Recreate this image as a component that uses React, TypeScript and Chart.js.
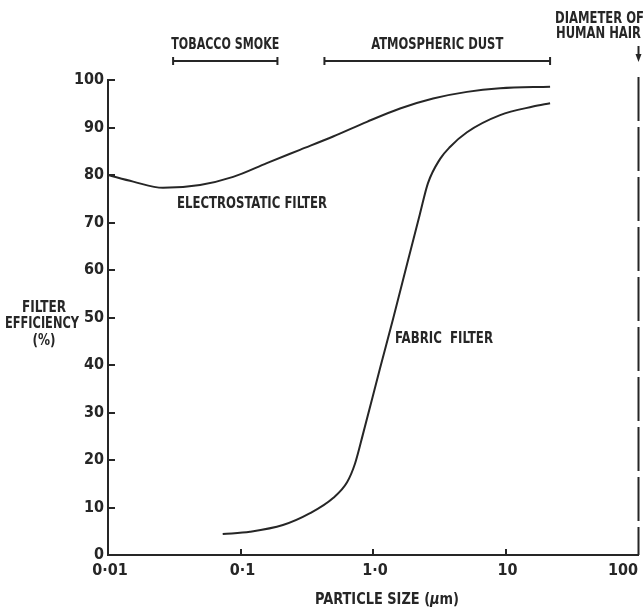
import React, { useEffect, useRef } from "react";
import { Chart, registerables } from "chart.js";

Chart.register(...registerables);

// ---- data ----
const electroX = [0.01, 0.0155, 0.026, 0.0495, 0.088, 0.158, 0.281, 0.5, 0.9, 1.6, 2.84, 5.12, 9.1, 21.7];
const electroY = [80, 78.6, 77.3, 77.9, 79.6, 82.5, 85.3, 88.1, 91.2, 94.0, 96.1, 97.5, 98.25, 98.6];

const fabricX = [0.0734, 0.118, 0.209, 0.335, 0.5, 0.637, 0.731, 0.841, 1.13, 1.42, 1.81, 2.26, 2.6, 3.21, 3.81, 5.12, 9.1, 16.1, 21.7];
const fabricY = [4.4, 4.9, 6.3, 8.8, 12, 15.3, 19.2, 25.5, 39.3, 49.8, 61.3, 71.8, 78.3, 83.4, 85.9, 89, 92.6, 94.4, 95.1];

const xTickValues = [0.01, 0.1, 1, 10, 100];
const xTickLabels = ["0·01", "0·1", "1·0", "10", "100"];
const yTickValues = [10, 20, 30, 40, 50, 60, 70, 80, 90, 100];

const tobaccoRange = [0.031, 0.19];
const dustRange = [0.43, 21.7];
const hairDiameter = 100;

const INK = "#262626";
const FAM = '"Liberation Sans Narrow", "DejaVu Sans Condensed", "Arial Narrow", sans-serif';
const FONT = `bold 16px ${FAM}`;

function fitText(ctx: CanvasRenderingContext2D, text: string, cx: number, cy: number, w: number, font = FONT) {
  ctx.save();
  ctx.font = font;
  const m = ctx.measureText(text).width;
  const s = w / m;
  ctx.translate(cx, cy);
  ctx.scale(s, 1);
  ctx.textAlign = "center";
  ctx.textBaseline = "middle";
  ctx.fillStyle = INK;
  ctx.fillText(text, 0, 0);
  ctx.restore();
}

const decorPlugin = {
  id: "decor",
  afterDraw(chart: any) {
    const ctx: CanvasRenderingContext2D = chart.ctx;
    const xs = chart.scales.x;
    const ys = chart.scales.y;
    const area = chart.chartArea;
    ctx.save();
    ctx.strokeStyle = INK;
    ctx.fillStyle = INK;
    ctx.lineWidth = 2;
    ctx.lineCap = "butt";

    // y ticks (inward)
    yTickValues.forEach((v) => {
      const py = Math.round(ys.getPixelForValue(v));
      ctx.beginPath();
      ctx.moveTo(area.left - 1, py);
      ctx.lineTo(area.left + 7, py);
      ctx.stroke();
    });
    // x ticks (inward)
    xTickValues.slice(1, 4).forEach((v) => {
      const px = Math.round(xs.getPixelForValue(v));
      ctx.beginPath();
      ctx.moveTo(px, area.bottom);
      ctx.lineTo(px, area.bottom - 6);
      ctx.stroke();
    });
    // x tick labels
    ctx.font = FONT;
    ctx.textBaseline = "middle";
    xTickValues.forEach((v, i) => {
      const px = xs.getPixelForValue(v);
      if (i === xTickValues.length - 1) {
        ctx.textAlign = "right";
        ctx.fillText(xTickLabels[i], px, area.bottom + 16);
      } else {
        ctx.textAlign = "center";
        ctx.fillText(xTickLabels[i], px + 2, area.bottom + 16);
      }
    });

    // y title (horizontal, three lines)
    fitText(ctx, "FILTER", 44, 308, 44);
    fitText(ctx, "EFFICIENCY", 42, 324, 74);
    fitText(ctx, "(%)", 44, 341, 23);

    // x title with italic mu
    {
      const y = 600;
      const parts = [
        { t: "PARTICLE SIZE (", f: FONT },
        { t: "μ", f: `italic bold 16px ${FAM}` },
        { t: "m)", f: FONT },
      ];
      let total = 0;
      const widths = parts.map((p) => {
        ctx.font = p.f;
        const w = ctx.measureText(p.t).width;
        total += w;
        return w;
      });
      const target = 144;
      const s = target / total;
      ctx.save();
      ctx.translate(387 - target / 2, y);
      ctx.scale(s, 1);
      ctx.textAlign = "left";
      ctx.textBaseline = "middle";
      let x = 0;
      parts.forEach((p, i) => {
        ctx.font = p.f;
        ctx.fillText(p.t, x, 0);
        x += widths[i];
      });
      ctx.restore();
    }

    // range brackets
    const bracketY = 61;
    const drawBracket = (r: number[], label: string, w: number) => {
      const x1 = xs.getPixelForValue(r[0]);
      const x2 = xs.getPixelForValue(r[1]);
      ctx.lineWidth = 2;
      ctx.beginPath();
      ctx.moveTo(x1, bracketY);
      ctx.lineTo(x2, bracketY);
      ctx.moveTo(x1, bracketY - 4);
      ctx.lineTo(x1, bracketY + 4);
      ctx.moveTo(x2, bracketY - 4);
      ctx.lineTo(x2, bracketY + 4);
      ctx.stroke();
      fitText(ctx, label, (x1 + x2) / 2, 45, w);
    };
    drawBracket(tobaccoRange, "TOBACCO SMOKE", 108);
    drawBracket(dustRange, "ATMOSPHERIC DUST", 132);

    // human hair
    const hx = Math.round(xs.getPixelForValue(hairDiameter)) + 0.5;
    fitText(ctx, "DIAMETER OF", 599.5, 19, 89);
    fitText(ctx, "HUMAN HAIR", 598.5, 34, 85);
    ctx.lineWidth = 2;
    ctx.beginPath();
    ctx.moveTo(hx, 46);
    ctx.lineTo(hx, 56);
    ctx.stroke();
    ctx.beginPath();
    ctx.moveTo(hx - 3, 54);
    ctx.lineTo(hx + 3, 54);
    ctx.lineTo(hx, 62);
    ctx.closePath();
    ctx.fill();
    ctx.setLineDash([44, 6]);
    ctx.beginPath();
    ctx.moveTo(hx, 77);
    ctx.lineTo(hx, area.bottom);
    ctx.stroke();
    ctx.setLineDash([]);

    // curve labels
    fitText(ctx, "ELECTROSTATIC FILTER", 252, 204, 150);
    fitText(ctx, "FABRIC  FILTER", 444, 339, 98);

    ctx.restore();
  },
};

export default function App() {
  const ref = useRef<HTMLCanvasElement | null>(null);
  useEffect(() => {
    if (!ref.current) return;
    const chart = new Chart(ref.current, {
      type: "line",
      data: {
        datasets: [
          {
            label: "Electrostatic filter",
            data: electroX.map((x, i) => ({ x, y: electroY[i] })),
            borderColor: INK,
            borderWidth: 2,
            pointRadius: 0,
            cubicInterpolationMode: "monotone",
            fill: false,
          },
          {
            label: "Fabric filter",
            data: fabricX.map((x, i) => ({ x, y: fabricY[i] })),
            borderColor: INK,
            borderWidth: 2,
            pointRadius: 0,
            cubicInterpolationMode: "monotone",
            fill: false,
          },
        ],
      },
      options: {
        animation: false,
        responsive: false,
        events: [],
        layout: { padding: { left: 0, right: 6, top: 80, bottom: 0 } },
        plugins: { legend: { display: false }, tooltip: { enabled: false }, title: { display: false } },
        scales: {
          x: {
            type: "logarithmic",
            min: 0.01,
            max: 100,
            grid: { display: false, drawTicks: false },
            border: { display: true, color: INK, width: 2 },
            ticks: { display: false },
            afterBuildTicks: (scale: any) => {
              scale.ticks = xTickValues.map((v) => ({ value: v }));
            },
            afterFit: (scale: any) => {
              scale.height = 53;
            },
          },
          y: {
            type: "linear",
            min: 0,
            max: 100,
            grid: { display: false, drawTicks: false },
            border: { display: true, color: INK, width: 2 },
            ticks: {
              stepSize: 10,
              padding: 4,
              color: INK,
              font: { family: FAM, size: 16, weight: "bold" },
            },
            afterFit: (scale: any) => {
              scale.width = 108;
            },
          },
        },
      },
      plugins: [decorPlugin],
    } as any);
    return () => chart.destroy();
  }, []);
  return (
    <div style={{ position: "fixed", left: 0, top: 0, width: 644, height: 608, background: "#fff" }}>
      <canvas ref={ref} width={644} height={608} style={{ width: 644, height: 608, display: "block" }} />
    </div>
  );
}
